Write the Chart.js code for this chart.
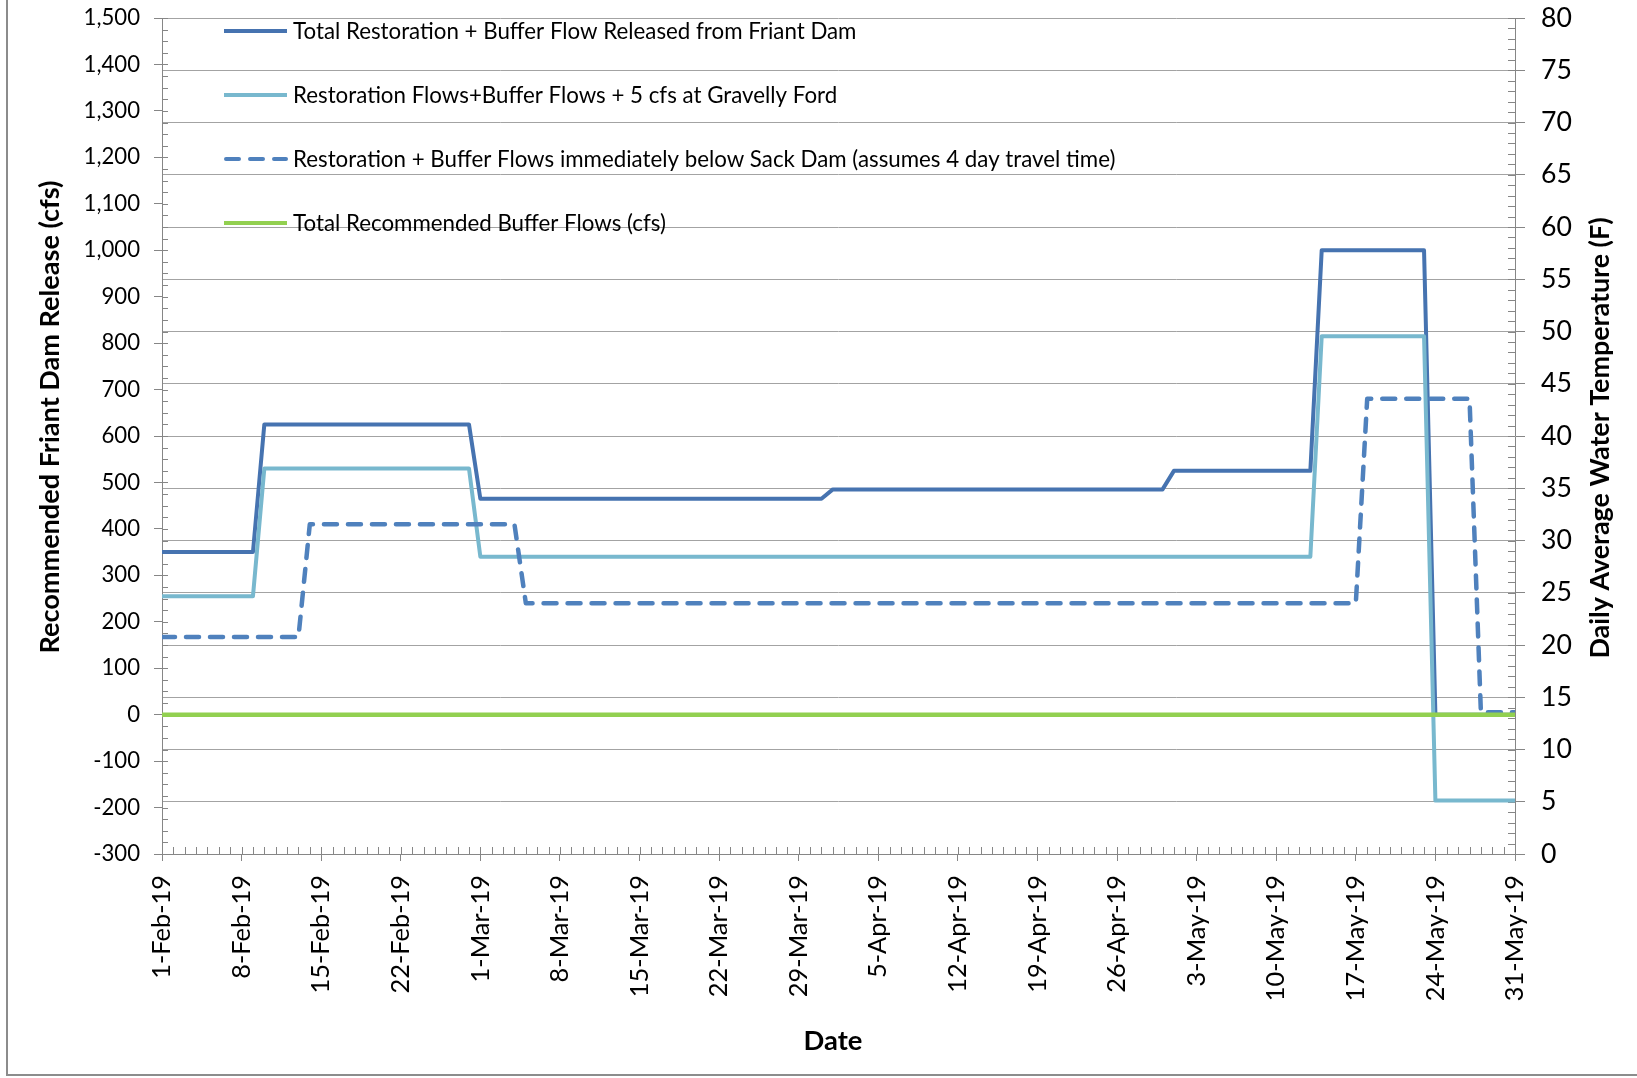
<!DOCTYPE html>
<html><head><meta charset="utf-8">
<script src="https://cdn.jsdelivr.net/npm/chart.js@4.4.1/dist/chart.umd.min.js"></script>
<style>html,body{margin:0;padding:0;background:#fff;overflow:hidden}canvas{display:block}</style>
</head><body>
<canvas id="c" width="1637" height="1078"></canvas>
<script>
// ---------------- data ----------------
const xTickLabels = ['1-Feb-19','8-Feb-19','15-Feb-19','22-Feb-19','1-Mar-19','8-Mar-19','15-Mar-19','22-Mar-19','29-Mar-19','5-Apr-19','12-Apr-19','19-Apr-19','26-Apr-19','3-May-19','10-May-19','17-May-19','24-May-19','31-May-19'];
const seriesNames = [
  'Total Restoration + Buffer Flow Released from Friant Dam',
  'Restoration Flows+Buffer Flows + 5 cfs at Gravelly Ford',
  'Restoration + Buffer Flows immediately below Sack Dam (assumes 4 day travel time)',
  'Total Recommended Buffer Flows (cfs)'
];
const leftTitle = 'Recommended Friant Dam Release (cfs)';
const rightTitle = 'Daily Average Water Temperature (F)';
const xTitle = 'Date';

// day index 0 = 1-Feb-19 ... 119 = 31-May-19
const friantRelease = [
  350,350,350,350,350,350,350,350,350,
  625,625,625,625,625,625,625,625,625,625,625,625,625,625,625,625,625,625,625,
  465,465,465,465,465,465,465,465,465,465,465,465,465,465,465,465,465,465,465,465,465,465,465,465,465,465,465,465,465,465,465,
  485,485,485,485,485,485,485,485,485,485,485,485,485,485,485,485,485,485,485,485,485,485,485,485,485,485,485,485,485,485,
  525,525,525,525,525,525,525,525,525,525,525,525,525,
  1000,1000,1000,1000,1000,1000,1000,1000,1000,1000,
  0,0,0,0,0,0,0,0
];
const gravellyFord = [
  255,255,255,255,255,255,255,255,255,
  530,530,530,530,530,530,530,530,530,530,530,530,530,530,530,530,530,530,530,
  340,340,340,340,340,340,340,340,340,340,
  340,340,340,340,340,340,340,340,340,340,
  340,340,340,340,340,340,340,340,340,340,
  340,340,340,340,340,340,340,340,340,340,
  340,340,340,340,340,340,340,340,340,340,
  340,340,340,340,340,340,340,340,340,340,
  340,340,340,340,340,340,340,340,340,340,
  340,340,340,340,
  815,815,815,815,815,815,815,815,815,815,
  -185,-185,-185,-185,-185,-185,-185,-185
];
const sackDam = [
  167,167,167,167,167,167,167,167,167,167,167,167,167,
  410,410,410,410,410,410,410,410,410,410,410,410,410,410,410,410,410,410,410,
  240,240,240,240,240,240,240,240,240,240,
  240,240,240,240,240,240,240,240,240,240,
  240,240,240,240,240,240,240,240,240,240,
  240,240,240,240,240,240,240,240,240,240,
  240,240,240,240,240,240,240,240,240,240,
  240,240,240,240,240,240,240,240,240,240,
  240,240,240,240,240,240,240,240,240,240,
  240,240,240,240,
  680,680,680,680,680,680,680,680,680,680,
  5,5,5,5
];
const bufferFlows = [
  0,0,0,0,0,0,0,0,0,0, 0,0,0,0,0,0,0,0,0,0, 0,0,0,0,0,0,0,0,0,0,
  0,0,0,0,0,0,0,0,0,0, 0,0,0,0,0,0,0,0,0,0, 0,0,0,0,0,0,0,0,0,0,
  0,0,0,0,0,0,0,0,0,0, 0,0,0,0,0,0,0,0,0,0, 0,0,0,0,0,0,0,0,0,0,
  0,0,0,0,0,0,0,0,0,0, 0,0,0,0,0,0,0,0,0,0, 0,0,0,0,0,0,0,0,0,0
];
const days = friantRelease.map((_, i) => i);

// ---------------- styles ----------------
const FAMILY = 'Lato, "Open Sans", sans-serif';
const AXIS = '#868686';
const GRID = '#a3a3a3';
const DARK = '#4673B0';
const LIGHT = '#78B8CE';
const DASHC = '#4F81BD';
const GREEN = '#92D050';
const DASH = [13, 11];

const mctx = document.createElement('canvas').getContext('2d');
function fitSize(text, weight, target) {
  mctx.font = weight + ' 100px ' + FAMILY;
  const m = mctx.measureText(text);
  const w = (m.actualBoundingBoxLeft + m.actualBoundingBoxRight) || m.width;
  return +(100 * target / w).toFixed(2);
}
const leftTickSize = fitSize('1,500', 'normal', 54);
const rightTickSize = fitSize('80', 'normal', 29);
const xTickSize = fitSize('22-Feb-19', 'normal', 116);
const legendSize = fitSize(seriesNames[0], 'normal', 562);
const leftTitleSize = fitSize(leftTitle, 'bold', 470);
const rightTitleSize = fitSize(rightTitle, 'bold', 438);
const xTitleSize = fitSize(xTitle, 'bold', 56);

Chart.defaults.color = '#000';
Chart.defaults.font.family = FAMILY;

const toXY = arr => arr.map((v, i) => ({x: days[i], y: v}));

const decor = {
  id: 'decor',
  beforeDatasetsDraw(chart) {
    const {ctx, chartArea: a, scales} = chart;
    const xs = scales.x, yl = scales.y, yr = scales.y1;
    ctx.save();
    ctx.strokeStyle = AXIS; ctx.lineWidth = 1;
    ctx.beginPath();
    days.forEach(d => {
      const px = Math.round(xs.getPixelForValue(d)) + 0.5;
      ctx.moveTo(px, a.bottom); ctx.lineTo(px, a.bottom - 7);
    });
    for (let v = yl.min; v <= yl.max; v += 25) {
      const py = Math.round(yl.getPixelForValue(v)) + 0.5;
      ctx.moveTo(a.left, py); ctx.lineTo(a.left + 6, py);
    }
    for (let v = yr.min; v <= yr.max; v += 1) {
      const py = Math.round(yr.getPixelForValue(v)) + 0.5;
      ctx.moveTo(a.right, py); ctx.lineTo(a.right - 7, py);
    }
    ctx.stroke();
    ctx.restore();
  },
  afterDraw(chart) {
    const {ctx} = chart;
    ctx.save();
    // outer border
    ctx.strokeStyle = '#8c8c8c'; ctx.lineWidth = 2;
    ctx.beginPath(); ctx.moveTo(7, 0); ctx.lineTo(7, 1075); ctx.lineTo(1640, 1075); ctx.stroke();
    // legend
    const ly = [31, 95, 159, 223];
    const lstyle = [
      {c: DARK, dash: []}, {c: LIGHT, dash: []}, {c: DASHC, dash: DASH, cap: 'round'}, {c: GREEN, dash: []}
    ];
    ctx.font = legendSize + 'px ' + FAMILY;
    ctx.textBaseline = 'middle'; ctx.textAlign = 'left';
    seriesNames.forEach((n, i) => {
      const s = lstyle[i];
      ctx.strokeStyle = s.c; ctx.lineWidth = 4; ctx.setLineDash(s.dash); ctx.lineCap = s.cap || 'butt';
      ctx.beginPath();
      if (s.cap) { ctx.moveTo(226, ly[i]); ctx.lineTo(286, ly[i]); }
      else { ctx.moveTo(224, ly[i]); ctx.lineTo(287, ly[i]); }
      ctx.stroke();
      ctx.setLineDash([]);
      ctx.fillStyle = '#000';
      ctx.fillText(n, 293, ly[i] + 1);
    });
    // axis titles
    ctx.fillStyle = '#000';
    ctx.textAlign = 'center'; ctx.textBaseline = 'middle';
    ctx.save(); ctx.translate(50, 417); ctx.rotate(-Math.PI / 2);
    ctx.font = 'bold ' + leftTitleSize + 'px ' + FAMILY; ctx.fillText(leftTitle, 0, 0); ctx.restore();
    ctx.save(); ctx.translate(1600, 438); ctx.rotate(-Math.PI / 2);
    ctx.font = 'bold ' + rightTitleSize + 'px ' + FAMILY; ctx.fillText(rightTitle, 0, 0); ctx.restore();
    ctx.font = 'bold ' + xTitleSize + 'px ' + FAMILY; ctx.fillText(xTitle, 833, 1041);
    ctx.restore();
  }
};

new Chart(document.getElementById('c'), {
  type: 'line',
  data: {
    datasets: [
      {label: seriesNames[0], data: toXY(friantRelease), yAxisID: 'y', borderColor: DARK, borderWidth: 4, pointRadius: 0, tension: 0, order: 4, borderJoinStyle: 'round', fill: false},
      {label: seriesNames[1], data: toXY(gravellyFord), yAxisID: 'y', borderColor: LIGHT, borderWidth: 4, pointRadius: 0, tension: 0, order: 3, borderJoinStyle: 'round', fill: false},
      {label: seriesNames[2], data: toXY(sackDam), yAxisID: 'y', borderColor: DASHC, borderWidth: 4.5, borderDash: DASH, borderCapStyle: 'round', borderJoinStyle: 'round', pointRadius: 0, tension: 0, order: 2, fill: false},
      {label: seriesNames[3], data: toXY(bufferFlows), yAxisID: 'y', borderColor: GREEN, borderWidth: 4.5, pointRadius: 0, tension: 0, order: 1, fill: false}
    ]
  },
  options: {
    responsive: false,
    animation: false,
    devicePixelRatio: 1,
    events: [],
    layout: {autoPadding: false, padding: {top: 18, left: 0, right: 0, bottom: 0}},
    plugins: {legend: {display: false}, tooltip: {enabled: false}, title: {display: false}},
    scales: {
      x: {
        type: 'linear', position: 'bottom', min: 0, max: days[days.length - 1],
        afterBuildTicks: s => { s.ticks = xTickLabels.map((_, i) => ({value: i * 7})); },
        afterFit: s => { s.height = 1078 - 854; s.paddingLeft = 0; s.paddingRight = 0; s.paddingTop = 0; s.paddingBottom = 0; },
        ticks: {autoSkip: false, maxRotation: 90, minRotation: 90, padding: 14,
          font: {size: xTickSize, family: FAMILY}, color: '#000',
          callback: (v, i) => xTickLabels[i]},
        grid: {display: true, drawOnChartArea: false, drawTicks: true, tickLength: 7, color: AXIS},
        border: {display: true, color: AXIS, width: 1}
      },
      y: {
        type: 'linear', position: 'left', min: -300, max: 1500,
        afterFit: s => { s.width = 162; s.paddingTop = 0; s.paddingBottom = 0; s.paddingLeft = 0; s.paddingRight = 0; },
        ticks: {stepSize: 100, autoSkip: false, padding: 14, font: {size: leftTickSize, family: FAMILY}, color: '#000',
          callback: v => v.toLocaleString('en-US')},
        grid: {display: true, drawOnChartArea: false, drawTicks: true, tickLength: 8, color: AXIS},
        border: {display: true, color: AXIS, width: 1}
      },
      y1: {
        type: 'linear', position: 'right', min: 0, max: 80,
        afterFit: s => { s.width = 1637 - 1515; s.paddingTop = 0; s.paddingBottom = 0; s.paddingLeft = 0; s.paddingRight = 0; },
        ticks: {stepSize: 5, autoSkip: false, padding: 16, font: {size: rightTickSize, family: FAMILY}, color: '#000'},
        grid: {display: true, drawOnChartArea: true, drawTicks: true, tickLength: 10, color: GRID, tickColor: AXIS, lineWidth: 1},
        border: {display: true, color: AXIS, width: 1}
      }
    }
  },
  plugins: [decor]
});
</script>
</body></html>
